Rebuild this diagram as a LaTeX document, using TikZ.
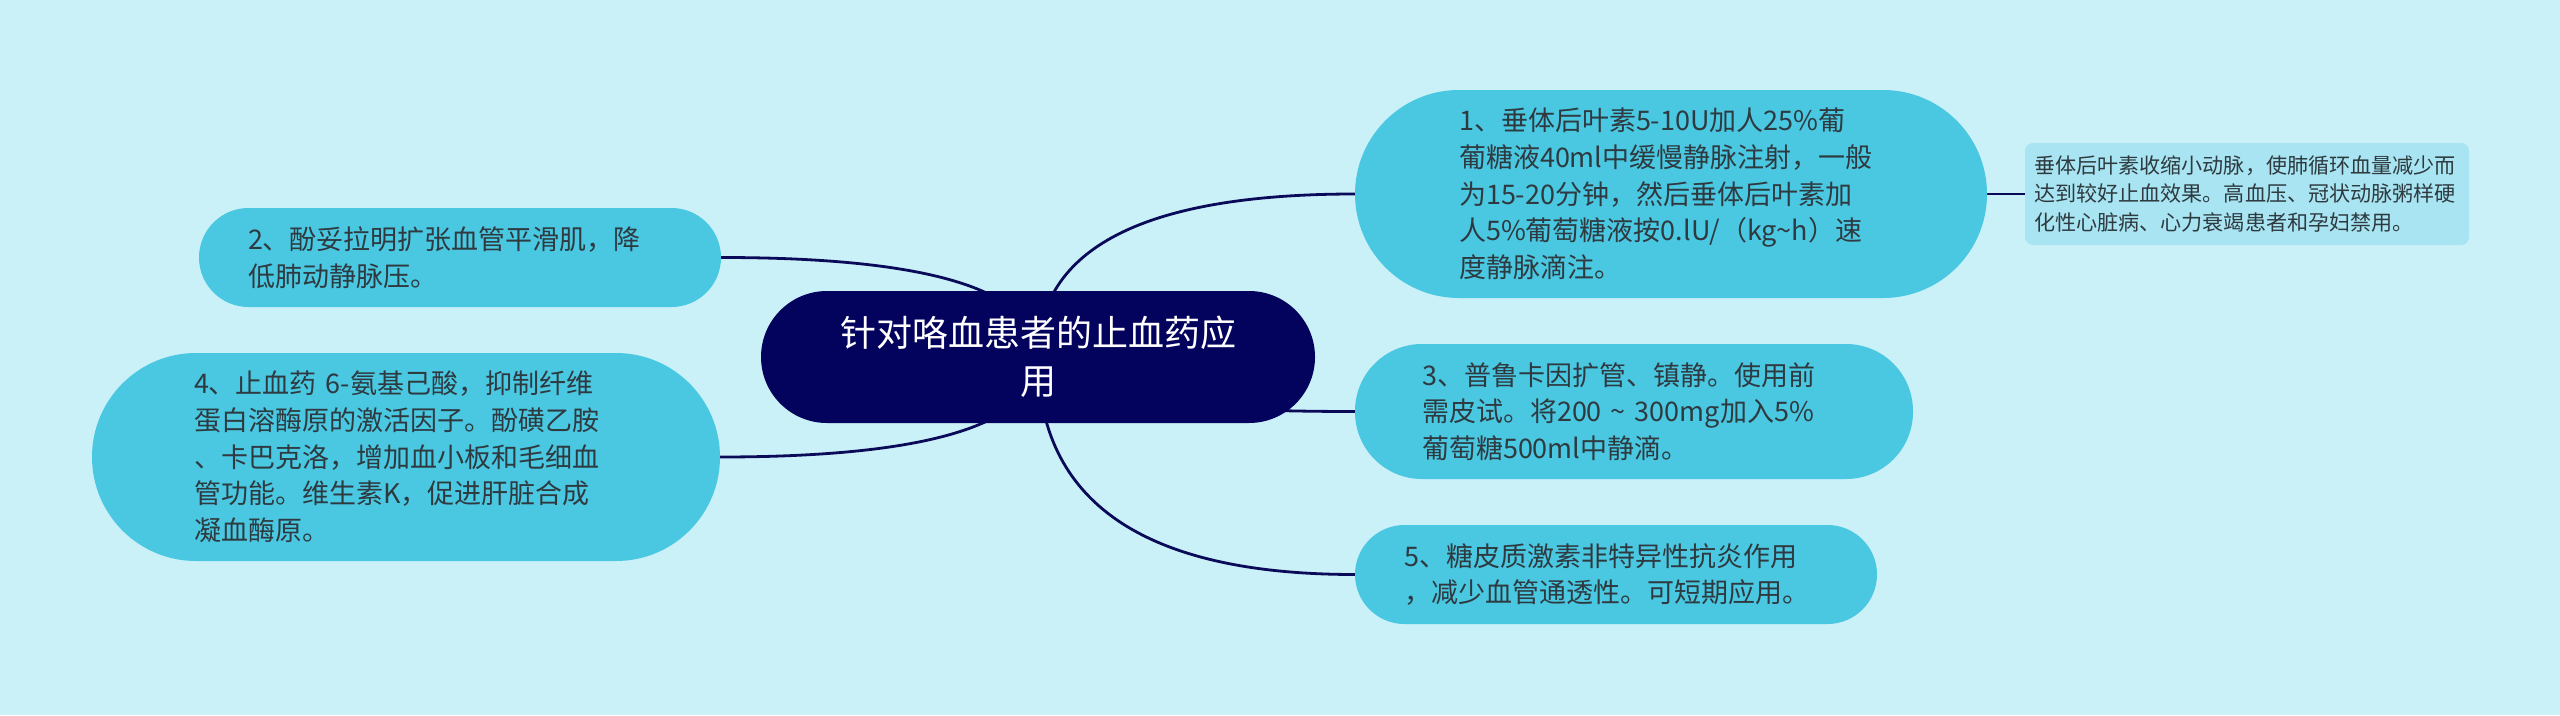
\documentclass[tikz,border=0pt]{standalone}
\usepackage{fontspec}
\setmainfont{Noto Sans CJK SC}
\usetikzlibrary{backgrounds,calc}
\definecolor{bgc}{HTML}{CAF0F8}
\definecolor{leafc}{HTML}{4AC8E2}
\definecolor{rootc}{HTML}{03035E}
\definecolor{linec}{HTML}{0A0A58}
\definecolor{notec}{HTML}{A8E4F1}
\definecolor{txtc}{HTML}{2E3A40}
\begin{document}
\begin{tikzpicture}[x=1pt,y=-1pt,
  leafbox/.style={rectangle, fill=leafc, inner sep=0pt, text=txtc, align=left,
    text width=424pt, font=\fontsize{27pt}{36.7pt}\selectfont},
  rootbox/.style={rectangle, fill=rootc, inner sep=0pt, text=white, align=center,
    font=\fontsize{36pt}{48pt}\selectfont},
  notebox/.style={rectangle, fill=notec, inner sep=0pt, text=txtc, align=left,
    text width=426pt, font=\fontsize{21.1pt}{28.3pt}\selectfont},
  conn/.style={draw=linec, line width=2.8pt}]
\useasboundingbox (0,0) rectangle (2560,715);

\node[rootbox, minimum width=554pt, minimum height=132pt, rounded corners=66pt] (c) at (1038,357)
  {针对咯血患者的止血药应\\用};

\node[leafbox, minimum width=632pt, minimum height=208pt, rounded corners=104pt] (n1) at (1671,194)
  {1、垂体后叶素5-10U加人25\%葡\\葡糖液40ml中缓慢静脉注射，一般\\为15-20分钟，然后垂体后叶素加\\人5\%葡萄糖液按0.lU/（kg\textasciitilde h）速\\度静脉滴注。};

\node[notebox, minimum width=444pt, minimum height=102pt, rounded corners=8pt] (note) at (2247,194)
  {垂体后叶素收缩小动脉，使肺循环血量减少而\\达到较好止血效果。高血压、冠状动脉粥样硬\\化性心脏病、心力衰竭患者和孕妇禁用。};

\node[leafbox, minimum width=522pt, minimum height=99pt, rounded corners=49.5pt] (n2) at (460,257.5)
  {2、酚妥拉明扩张血管平滑肌，降\\低肺动静脉压。};

\node[leafbox, minimum width=628pt, minimum height=208pt, rounded corners=104pt] (n4) at (406,457)
  {4、止血药 6-氨基己酸，抑制纤维\\蛋白溶酶原的激活因子。酚磺乙胺\\、卡巴克洛，增加血小板和毛细血\\管功能。维生素K，促进肝脏合成\\凝血酶原。};

\node[leafbox, minimum width=558pt, minimum height=135pt, rounded corners=67pt] (n3) at (1634,411.5)
  {3、普鲁卡因扩管、镇静。使用前\\需皮试。将200 \textasciitilde{} 300mg加入5\%\\葡萄糖500ml中静滴。};

\node[leafbox, minimum width=522pt, minimum height=99pt, rounded corners=49.5pt] (n5) at (1616,574.5)
  {5、糖皮质激素非特异性抗炎作用\\，减少血管通透性。可短期应用。};

\begin{pgfonlayer}{background}
  \fill[bgc] (0,0) rectangle (2560,715);
  \draw[conn] (c.center) .. controls ($(c.center)!2/3!(c.center |- n1.west)$) and ($(n1.west)!2/3!(c.center |- n1.west)$) .. (n1.west);
  \draw[conn] (c.center) .. controls ($(c.center)!2/3!(c.center |- n2.east)$) and ($(n2.east)!2/3!(c.center |- n2.east)$) .. (n2.east);
  \draw[conn] (c.center) .. controls ($(c.center)!2/3!(c.center |- n4.east)$) and ($(n4.east)!2/3!(c.center |- n4.east)$) .. (n4.east);
  \draw[conn] (c.center) .. controls ($(c.center)!2/3!(c.center |- n3.west)$) and ($(n3.west)!2/3!(c.center |- n3.west)$) .. (n3.west);
  \draw[conn] (c.center) .. controls ($(c.center)!2/3!(c.center |- n5.west)$) and ($(n5.west)!2/3!(c.center |- n5.west)$) .. (n5.west);
  \draw[conn] (n1.east) -- (note.west);
\end{pgfonlayer}
\end{tikzpicture}
\end{document}
